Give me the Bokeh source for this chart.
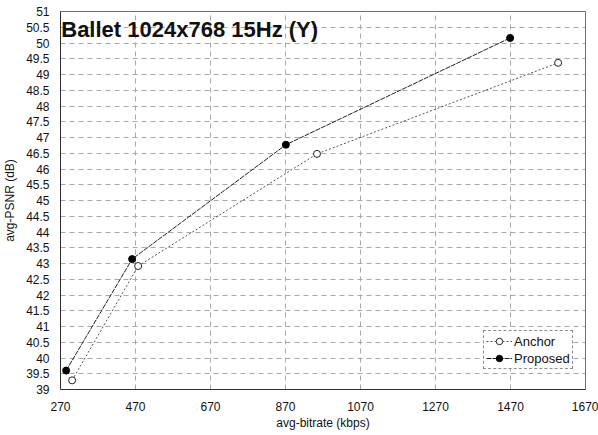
from bokeh.plotting import figure
from bokeh.models import Range1d, FixedTicker, CustomJSTickFormatter, Label, Legend, LegendItem, ColumnDataSource
from bokeh.embed import file_html
from bokeh.resources import INLINE

# Data
anchor_bitrate = [301, 477, 954, 1597]
anchor_psnr = [39.29, 42.92, 46.48, 49.37]
proposed_bitrate = [285, 461, 871, 1469]
proposed_psnr = [39.6, 43.14, 46.77, 50.16]

x_ticks = [270, 470, 670, 870, 1070, 1270, 1470, 1670]
y_ticks = [39 + 0.5 * i for i in range(25)]
title_text = "Ballet 1024x768 15Hz (Y)"
x_label = "avg-bitrate (kbps)"
y_label = "avg-PSNR (dB)"

FONT = "Liberation Sans"

p = figure(width=598, height=435, output_backend="svg", toolbar_location=None,
           x_range=Range1d(270, 1670), y_range=Range1d(39, 51),
           min_border_left=59, min_border_right=13, min_border_top=11, min_border_bottom=46)
p.background_fill_color = "white"
p.border_fill_color = "white"
p.outline_line_color = "#707070"
p.outline_line_width = 1

for ax in (p.xaxis[0], p.yaxis[0]):
    ax.major_tick_out = 0
    ax.major_tick_in = 0
    ax.minor_tick_out = 0
    ax.minor_tick_in = 0
    ax.axis_line_color = "#303030"
    ax.major_label_text_font = FONT
    ax.major_label_text_font_size = "12px"
    ax.major_label_text_color = "#111111"
    ax.axis_label_text_font = FONT
    ax.axis_label_text_font_size = "12px"
    ax.axis_label_text_font_style = "normal"
    ax.axis_label_text_color = "#111111"

p.xaxis.ticker = FixedTicker(ticks=x_ticks)
p.yaxis.ticker = FixedTicker(ticks=y_ticks)
p.yaxis.formatter = CustomJSTickFormatter(code="return String(tick);")
p.xaxis.formatter = CustomJSTickFormatter(code="return String(tick);")
p.xaxis.axis_label = x_label
p.yaxis.axis_label = y_label
p.xaxis.major_label_standoff = 12
p.xaxis.axis_label_standoff = 2
p.yaxis.major_label_standoff = 11
p.yaxis.axis_label_standoff = 6

p.grid.grid_line_color = "#a8a8a8"
p.grid.grid_line_dash = "5 4"
p.grid.grid_line_width = 1

src_a = ColumnDataSource(dict(x=anchor_bitrate, y=anchor_psnr))
src_p = ColumnDataSource(dict(x=proposed_bitrate, y=proposed_psnr))

la = p.line("x", "y", source=src_a, line_color="#555555", line_width=1, line_dash="2 2")
ma = p.scatter("x", "y", source=src_a, marker="circle", size=7, fill_color="white",
               line_color="#222222", line_width=1)
lp = p.line("x", "y", source=src_p, line_color="#222222", line_width=1, line_dash="5 1")
mp = p.scatter("x", "y", source=src_p, marker="circle", size=7, fill_color="black",
               line_color="black", line_width=1)

legend = Legend(items=[LegendItem(label="Anchor", renderers=[la, ma]),
                       LegendItem(label="Proposed", renderers=[lp, mp])],
                location=(423, 20))
legend.label_text_font = FONT
legend.label_text_font_size = "13px"
legend.label_text_color = "#111111"
legend.border_line_color = "#222222"
legend.border_line_dash = "2 2"
legend.border_line_width = 1
legend.background_fill_color = "white"
legend.background_fill_alpha = 1
legend.glyph_width = 26
legend.glyph_height = 16
legend.label_height = 16
legend.label_standoff = 2
legend.spacing = 1
legend.padding = 2
legend.margin = 0
p.add_layout(legend)

p.add_layout(Label(x=272, y=50.42, text=title_text, text_font=FONT, text_font_size="22px",
                   text_font_style="bold", text_color="#111111", text_baseline="middle"))

open("out.html", "w").write(file_html(p, INLINE))
